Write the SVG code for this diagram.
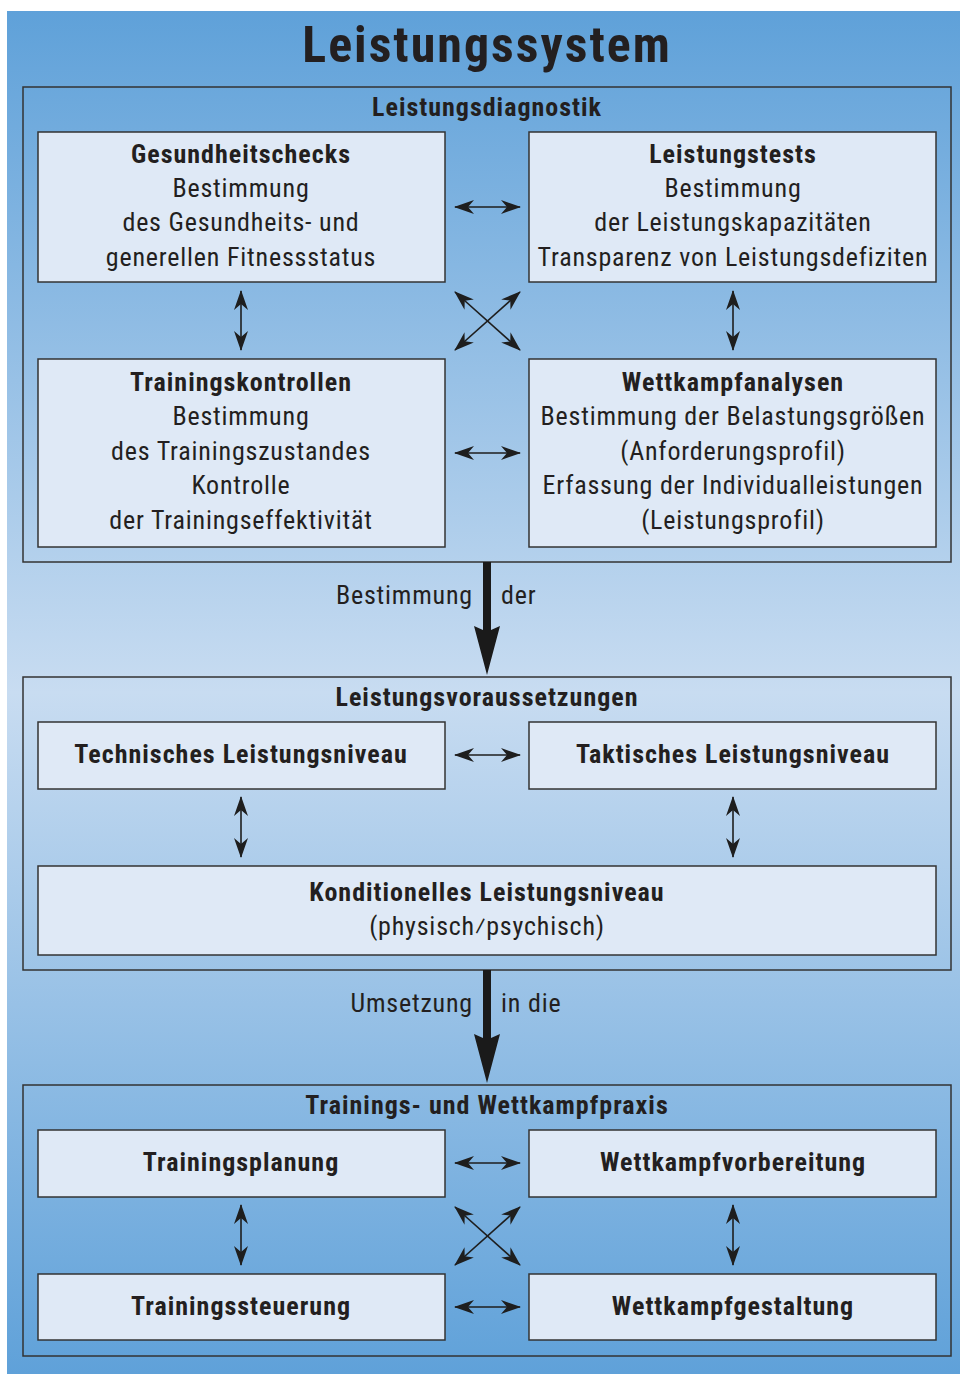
<svg xmlns="http://www.w3.org/2000/svg" width="960" height="1374" viewBox="0 0 960 1374">
<defs>
<linearGradient id="bg" x1="0" y1="11" x2="0" y2="1374" gradientUnits="userSpaceOnUse">
<stop offset="0" stop-color="#5fa1d9"/>
<stop offset="0.5" stop-color="#c8dcf1"/>
<stop offset="1" stop-color="#5fa1d9"/>
</linearGradient>
<marker id="ah" viewBox="0 0 20 14" refX="19" refY="7" markerWidth="20" markerHeight="14" markerUnits="userSpaceOnUse" orient="auto-start-reverse">
<path d="M0,0 L20,7 L0,14 L6,7 Z" fill="#1e1e1e"/>
</marker>
<style>
text{font-family:"Liberation Sans Narrow","Roboto Condensed","Open Sans Condensed","Roboto",sans-serif;fill:#231f20;text-anchor:middle;font-size:26px;letter-spacing:0.8px}
.b{font-weight:bold;letter-spacing:1px}
.t{font-size:50px;font-weight:bold;letter-spacing:2px}
.sec{fill:none;stroke:#333;stroke-width:1.5}
.box{fill:#dfe9f6;stroke:#333;stroke-width:1.5}
.a{stroke:#1e1e1e;stroke-width:1.6;fill:none;marker-start:url(#ah);marker-end:url(#ah)}
.big{fill:#1a1a1a}
.l{text-anchor:end}
.r{text-anchor:start}
</style>
</defs>
<rect x="7" y="11" width="953" height="1363" fill="url(#bg)"/>
<text class="t" x="487" y="62">Leistungssystem</text>

<g id="sec1">
<rect class="sec" x="23" y="87" width="928" height="475"/>
<text x="487" y="116" class="b">Leistungsdiagnostik</text>
</g>
<g id="gesundheitschecks">
<rect class="box" x="38" y="132" width="407" height="150"/>
<text x="241" y="163" class="b">Gesundheitschecks</text>
<text x="241" y="197">Bestimmung</text>
<text x="241" y="231">des Gesundheits- und</text>
<text x="241" y="266">generellen Fitnessstatus</text>
</g>
<g id="leistungstests">
<rect class="box" x="529" y="132" width="407" height="150"/>
<text x="733" y="163" class="b">Leistungstests</text>
<text x="733" y="197">Bestimmung</text>
<text x="733" y="231">der Leistungskapazitäten</text>
<text x="733" y="266">Transparenz von Leistungsdefiziten</text>
</g>
<g id="trainingskontrollen">
<rect class="box" x="38" y="359" width="407" height="188"/>
<text x="241" y="391" class="b">Trainingskontrollen</text>
<text x="241" y="425">Bestimmung</text>
<text x="241" y="460">des Trainingszustandes</text>
<text x="241" y="494">Kontrolle</text>
<text x="241" y="529">der Trainingseffektivität</text>
</g>
<g id="wettkampfanalysen">
<rect class="box" x="529" y="359" width="407" height="188"/>
<text x="733" y="391" class="b">Wettkampfanalysen</text>
<text x="733" y="425">Bestimmung der Belastungsgrößen</text>
<text x="733" y="460">(Anforderungsprofil)</text>
<text x="733" y="494">Erfassung der Individualleistungen</text>
<text x="733" y="529">(Leistungsprofil)</text>
</g>

<g id="sec2">
<rect class="sec" x="23" y="677" width="928" height="293"/>
<text x="487" y="706" class="b">Leistungsvoraussetzungen</text>
</g>
<g id="technisches">
<rect class="box" x="38" y="722" width="407" height="67"/>
<text x="241" y="763" class="b">Technisches Leistungsniveau</text>
</g>
<g id="taktisches">
<rect class="box" x="529" y="722" width="407" height="67"/>
<text x="733" y="763" class="b">Taktisches Leistungsniveau</text>
</g>
<g id="konditionelles">
<rect class="box" x="38" y="866" width="898" height="89"/>
<text x="487" y="901" class="b">Konditionelles Leistungsniveau</text>
<text x="487" y="935">(physisch⁄psychisch)</text>
</g>

<g id="sec3">
<rect class="sec" x="23" y="1085" width="928" height="271"/>
<text x="487" y="1114" class="b">Trainings- und Wettkampfpraxis</text>
</g>
<g id="trainingsplanung">
<rect class="box" x="38" y="1130" width="407" height="67"/>
<text x="241" y="1171" class="b">Trainingsplanung</text>
</g>
<g id="wettkampfvorbereitung">
<rect class="box" x="529" y="1130" width="407" height="67"/>
<text x="733" y="1171" class="b">Wettkampfvorbereitung</text>
</g>
<g id="trainingssteuerung">
<rect class="box" x="38" y="1274" width="407" height="66"/>
<text x="241" y="1315" class="b">Trainingssteuerung</text>
</g>
<g id="wettkampfgestaltung">
<rect class="box" x="529" y="1274" width="407" height="66"/>
<text x="733" y="1315" class="b">Wettkampfgestaltung</text>
</g>

<g id="connectors">
<line class="a" x1="455" y1="207" x2="520" y2="207"/>
<line class="a" x1="455" y1="453" x2="520" y2="453"/>
<line class="a" x1="241" y1="291" x2="241" y2="350"/>
<line class="a" x1="733" y1="291" x2="733" y2="350"/>
<line class="a" x1="455" y1="292" x2="520" y2="350"/>
<line class="a" x1="520" y1="292" x2="455" y2="350"/>
<path class="big" d="M483,562 L491,562 L491,630 L500,626 L487,675 L474,626 L483,630 Z"/>
<text x="473" y="604" class="l">Bestimmung</text>
<text x="501" y="604" class="r">der</text>
<line class="a" x1="455" y1="755" x2="520" y2="755"/>
<line class="a" x1="241" y1="797" x2="241" y2="857"/>
<line class="a" x1="733" y1="797" x2="733" y2="857"/>
<path class="big" d="M483,970 L491,970 L491,1038 L500,1034 L487,1083 L474,1034 L483,1038 Z"/>
<text x="473" y="1012" class="l">Umsetzung</text>
<text x="501" y="1012" class="r">in die</text>
<line class="a" x1="455" y1="1163" x2="520" y2="1163"/>
<line class="a" x1="241" y1="1205" x2="241" y2="1265"/>
<line class="a" x1="733" y1="1205" x2="733" y2="1265"/>
<line class="a" x1="455" y1="1207" x2="520" y2="1265"/>
<line class="a" x1="520" y1="1207" x2="455" y2="1265"/>
<line class="a" x1="455" y1="1307" x2="520" y2="1307"/>
</g>
</svg>
